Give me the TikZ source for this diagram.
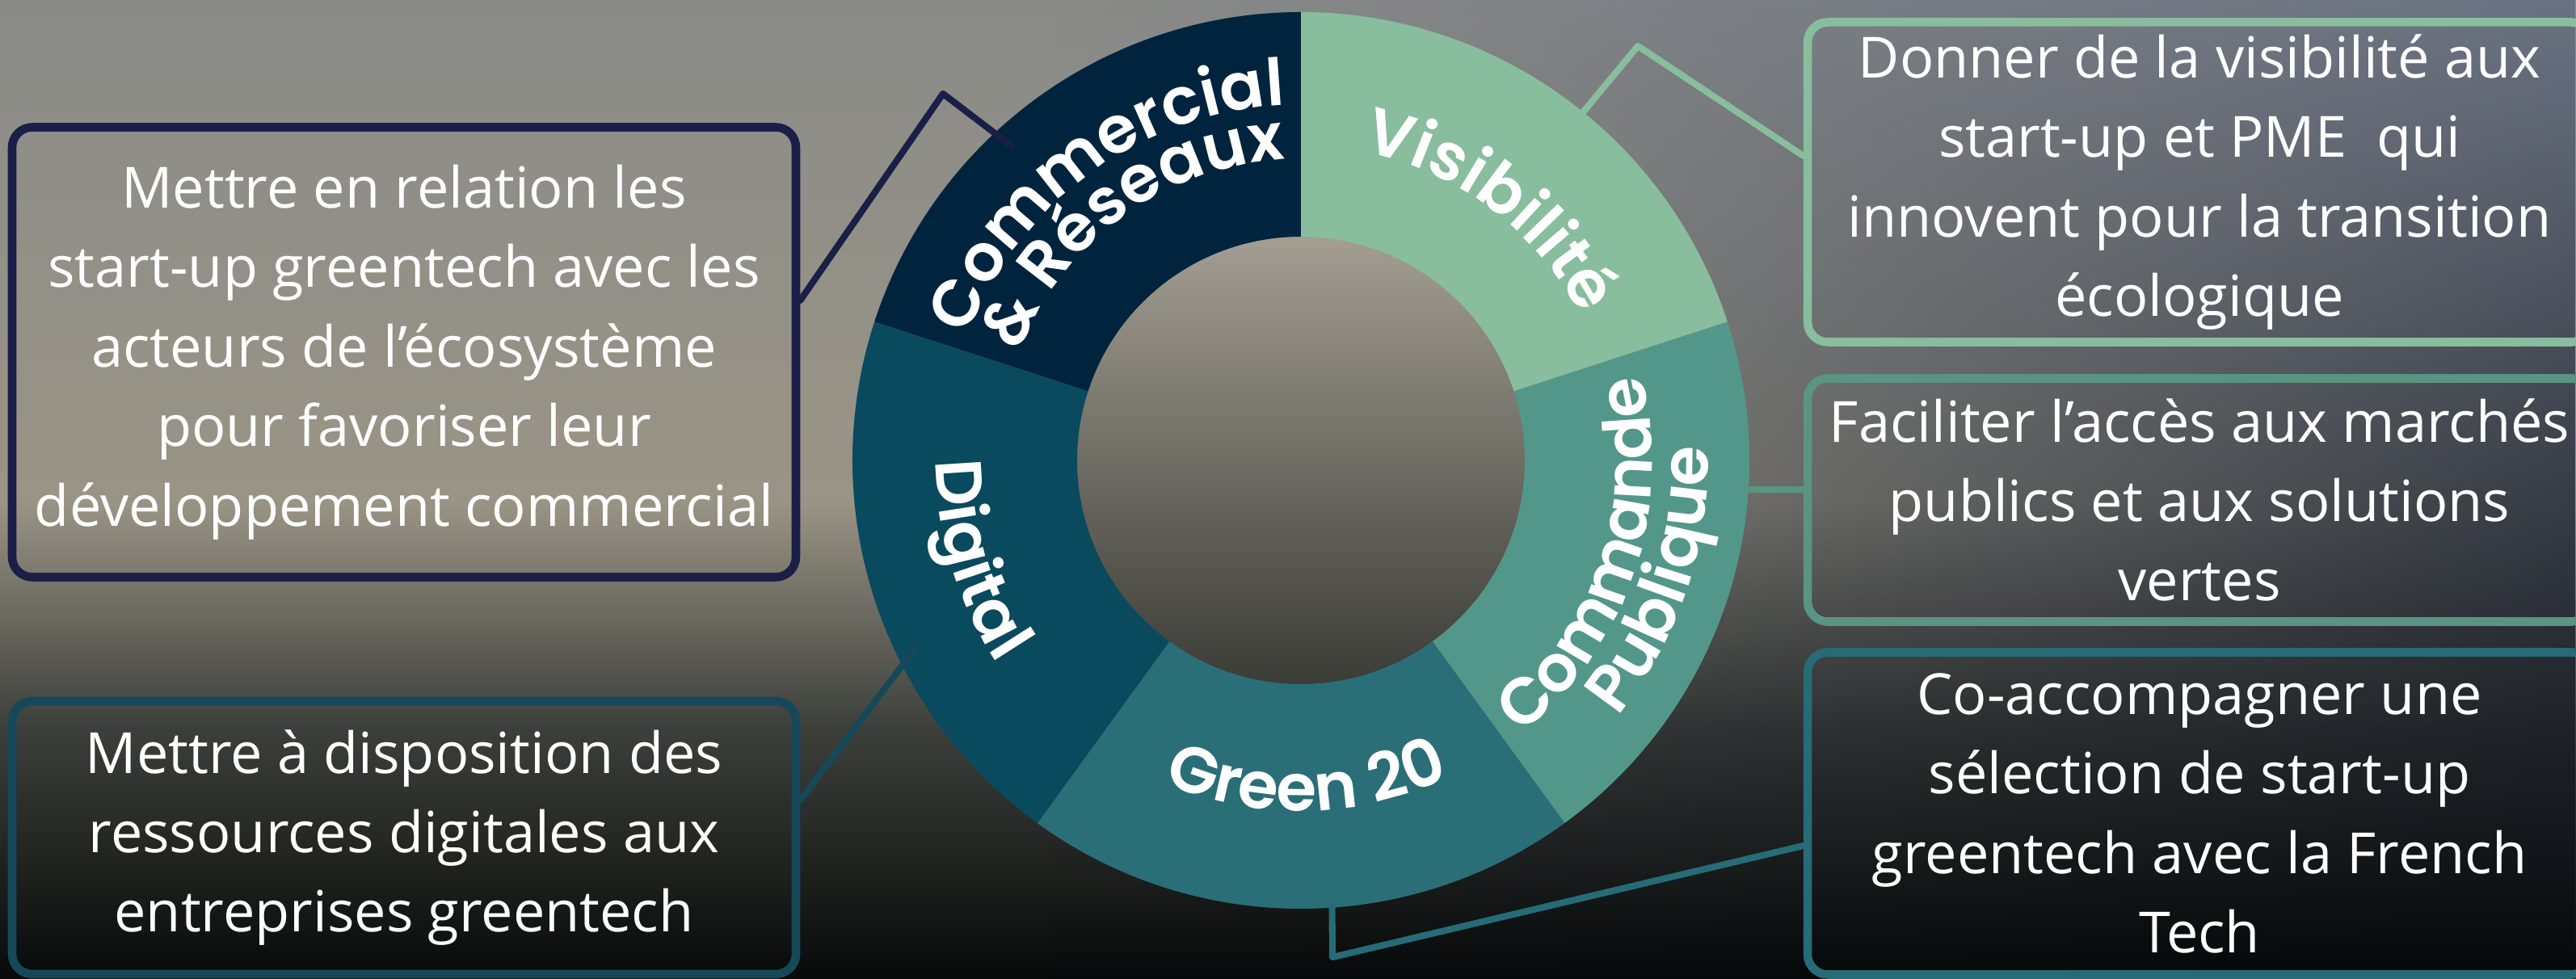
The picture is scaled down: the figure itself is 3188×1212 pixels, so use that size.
\documentclass[tikz,border=0pt]{standalone}
\usepackage{fontspec}
\setmainfont{Open Sans}
\newfontfamily\ringfont{Poppins}[BoldFont={Poppins SemiBold}]
\usetikzlibrary{decorations.text,fadings}

\definecolor{segCom}{HTML}{00243E}
\definecolor{segVis}{HTML}{88BD9E}
\definecolor{segCmd}{HTML}{53978A}
\definecolor{segGrn}{HTML}{2A6F78}
\definecolor{segDig}{HTML}{0A4A5E}
\definecolor{lnCom}{HTML}{1B1F47}
\definecolor{lnVis}{HTML}{88BD9E}
\definecolor{lnCmd}{HTML}{5A9483}
\definecolor{lnGrn}{HTML}{266B76}
\definecolor{lnDig}{HTML}{15495A}
\definecolor{bgTop}{HTML}{8A8B88}
\definecolor{bgMid}{HTML}{9A9486}
\definecolor{bgLow}{HTML}{3C3F3A}
\definecolor{bgBot}{HTML}{070A09}
\definecolor{bgRTop}{HTML}{6A7282}
\definecolor{bgRMid}{HTML}{4A505A}
\definecolor{bgRBot}{HTML}{05080A}
\definecolor{holeTop}{HTML}{A49E93}
\definecolor{holeMid}{HTML}{8C8676}
\definecolor{holeBot}{HTML}{3A3C36}

\tikzfading[name=fade in right, left color=transparent!100, right color=transparent!0]

\tikzset{
  goal/.style={draw=#1, line width=3pt, rounded corners=2.5mm, text=white,
    align=center, font=\fontsize{20}{28}\selectfont, minimum width=97mm, inner sep=0pt},
  link/.style={draw=#1, line width=2.3pt, line cap=round, line join=round},
}
\newcommand{\rlbl}{\ringfont\bfseries\fontsize{23}{23}\selectfont\color{white}}
% labels on the ring, read clockwise (tops out) or counter-clockwise (tops in)
\newcommand{\cwlabel}[3]{\path[decorate, decoration={text along path, text align=center,
    text={|\rlbl|#3}}] ({#1+70}:#2) arc[start angle=#1+70, end angle=#1-70, radius=#2];}
\newcommand{\ccwlabel}[3]{\path[decorate, decoration={text along path, text align=center,
    text={|\rlbl|#3}}] ({#1-70}:#2) arc[start angle=#1-70, end angle=#1+70, radius=#2];}

\begin{document}
\begin{tikzpicture}[x=0.1mm, y=0.1mm]
  \useasboundingbox (0,0) rectangle (3188,1212);
  % background
  \shade[top color=bgTop, bottom color=bgMid] (0,590) rectangle (3188,1212);
  \shade[top color=bgMid, bottom color=bgLow] (0,310) rectangle (3188,592);
  \shade[top color=bgLow, bottom color=bgBot] (0,0) rectangle (3188,312);
  \shade[top color=bgRTop, middle color=bgRMid, bottom color=bgRBot, path fading=fade in right]
    (1300,0) rectangle (3188,1212);

  % ring
  \begin{scope}[shift={(1610,642)}]
    \shade[top color=holeTop, middle color=holeMid, bottom color=holeBot] (0,0) circle (280);
    \foreach \a/\col in {90/segCom,18/segVis,-54/segCmd,-126/segGrn,162/segDig}
      \fill[\col] (\a:277) arc[start angle=\a, end angle=\a+72, radius=277]
        -- ({\a+72}:555) arc[start angle=\a+72, end angle=\a, radius=555] -- cycle;

    \cwlabel{126}{440}{Commercial}
    \cwlabel{126}{373}{{\&} Réseaux}
    \cwlabel{53}{390}{Visibilité}
    \ccwlabel{-18.5}{435}{Commande}
    \ccwlabel{-18.5}{504}{Publique}
    \ccwlabel{-89}{434}{Green 20}
    \ccwlabel{197}{452}{Digital}

    \coordinate (rCom) at (132.6:528);
    \coordinate (rVis) at (51:553);
    \coordinate (rCmd) at (-3.7:553);
    \coordinate (rGrn) at (-86:552);
    \coordinate (rDig) at (206:531);
  \end{scope}

  \coordinate (kCom) at (1167,1096);
  \coordinate (kVis) at (2027,1155);
  \coordinate (kGrn) at (1649,27);

  \node[goal=lnCom, minimum height=55.7mm] (bcom) at (500,776)
    {Mettre en relation les\\start-up greentech avec les\\acteurs de l’écosystème\\pour favoriser leur\\développement commercial};
  \node[goal=lnDig, minimum height=33.8mm] (bdig) at (500,175)
    {Mettre à disposition des\\ressources digitales aux\\entreprises greentech};
  \node[goal=lnVis, minimum height=39.6mm] (bvis) at (2722,986.5)
    {Donner de la visibilité aux\\start-up et PME\ \ qui\\innovent pour la transition\\écologique};
  \node[goal=lnCmd, minimum height=30.1mm] (bcmd) at (2722,593)
    {Faciliter l’accès aux marchés\\publics et aux solutions\\vertes};
  \node[goal=lnGrn, minimum height=39.9mm] (bgrn) at (2722,205)
    {Co-accompagner une\\sélection de start-up\\greentech avec la French\\Tech};

  \draw[link=lnCom] ([yshift=6.4mm]bcom.east) -- (kCom) -- (rCom);
  \draw[link=lnVis] (rVis) -- (kVis) -- ([yshift=3.25mm]bvis.west);
  \draw[link=lnCmd] (rCmd) -- (rCmd -| bcmd.west);
  \draw[link=lnGrn] (rGrn) -- (kGrn) -- ([yshift=-4mm]bgrn.west);
  \draw[link=lnDig] (rDig) -- ([yshift=4.65mm]bdig.east);
\end{tikzpicture}
\end{document}
